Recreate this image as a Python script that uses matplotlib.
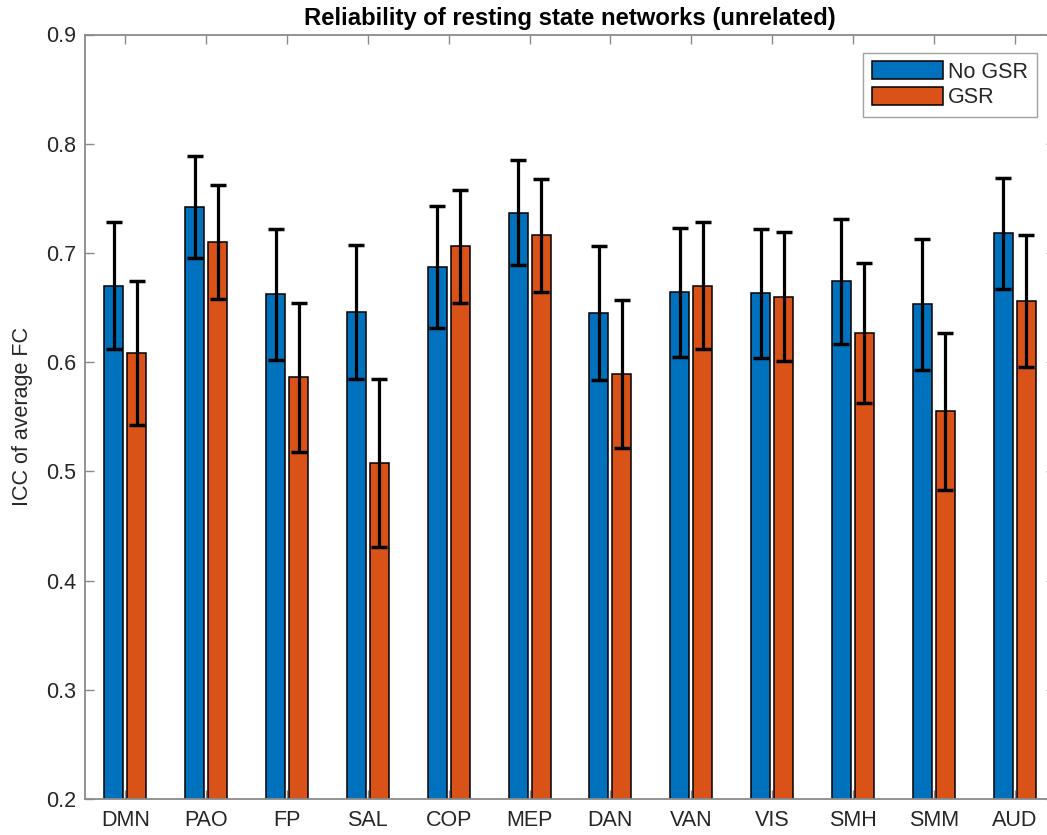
import numpy as np
import matplotlib
matplotlib.use("Agg")
import matplotlib.pyplot as plt

# network labels and values
networks = ["DMN", "PAO", "FP", "SAL", "COP", "MEP", "DAN", "VAN", "VIS", "SMH", "SMM", "AUD"]
icc_nogsr = [0.670, 0.742, 0.662, 0.646, 0.687, 0.737, 0.645, 0.664, 0.663, 0.674, 0.653, 0.718]
err_nogsr = [0.058, 0.047, 0.060, 0.061, 0.056, 0.048, 0.061, 0.059, 0.059, 0.057, 0.060, 0.051]
icc_gsr = [0.608, 0.710, 0.586, 0.508, 0.706, 0.716, 0.589, 0.670, 0.660, 0.627, 0.555, 0.656]
err_gsr = [0.066, 0.052, 0.068, 0.077, 0.052, 0.052, 0.068, 0.058, 0.059, 0.064, 0.072, 0.060]

blue = "#0072BD"
orange = "#D95319"
axis_grey = "#8a8a8a"
text_col = "#262626"

plt.rcParams["font.family"] = ["Liberation Sans", "DejaVu Sans"]
plt.rcParams["font.size"] = 15

fig = plt.figure(figsize=(10.47, 8.35), dpi=100)
W, H = 1047, 835
# axes runs slightly past the right edge of the picture (cropped original)
left, right, top, bottom = 85, 1055, 34.5, 799
ax = fig.add_axes([left / W, 1 - bottom / H, (right - left) / W, (bottom - top) / H])

x = np.arange(1, len(networks) + 1)
off = 0.142
bw = 0.235

ax.bar(x - off, icc_nogsr, bw, color=blue, edgecolor="black", linewidth=1.1,
       label="No GSR", zorder=2)
ax.bar(x + off, icc_gsr, bw, color=orange, edgecolor="black", linewidth=1.1,
       label="GSR", zorder=2)
ax.errorbar(x - off, icc_nogsr, yerr=err_nogsr, fmt="none", ecolor="black",
            elinewidth=2.3, capsize=5.5, capthick=2.5, zorder=3)
ax.errorbar(x + off, icc_gsr, yerr=err_gsr, fmt="none", ecolor="black",
            elinewidth=2.3, capsize=5.5, capthick=2.5, zorder=3)

ax.set_xlim(0.5, 12.5)
ax.set_ylim(0.2, 0.9)
ax.set_xticks(x)
ax.set_xticklabels(networks)
ax.set_yticks(np.arange(0.2, 0.91, 0.1))
ax.set_yticklabels(["%.1f" % v for v in np.arange(0.2, 0.91, 0.1)])

for s in ax.spines.values():
    s.set_color(axis_grey)
    s.set_linewidth(1.3)
ax.tick_params(direction="in", length=6.5, width=1.0, color=axis_grey,
               top=True, right=True, labelcolor=text_col, labelsize=15.5)
ax.tick_params(axis="x", pad=8)
ax.tick_params(axis="y", pad=6.5)

ax.set_ylabel("ICC of average FC", color=text_col, fontsize=15.5, labelpad=9)
ax.set_title("Reliability of resting state networks (unrelated)", fontsize=17.2,
             fontweight="bold", pad=7)

leg = ax.legend(loc="upper right", borderaxespad=0.85, handlelength=3.3,
                handleheight=0.9, handletextpad=0.25, labelspacing=0.2,
                borderpad=0.4, fancybox=False, fontsize=15.5)
leg.get_frame().set_edgecolor(axis_grey)
leg.get_frame().set_linewidth(1.0)
for t in leg.get_texts():
    t.set_color(text_col)

fig.savefig("out.png", dpi=100)
